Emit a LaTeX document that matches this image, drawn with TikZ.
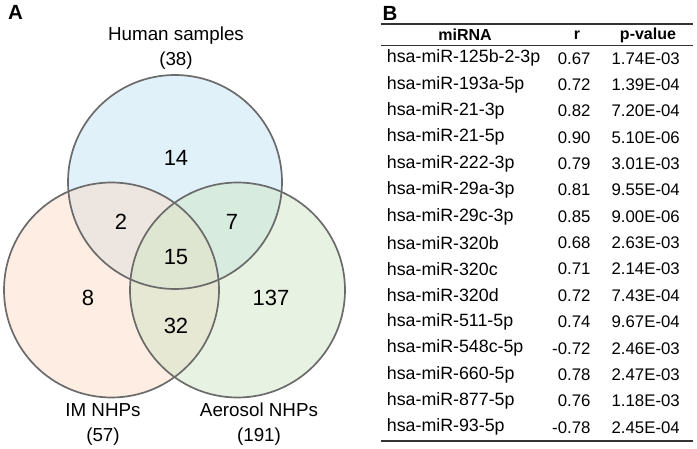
\documentclass[tikz,border=0pt]{standalone}
\usepackage{fontspec}
\setmainfont{Liberation Sans}
\definecolor{humanblue}{RGB}{193,227,245}
\definecolor{imorange}{RGB}{251,219,197}
\definecolor{aerogreen}{RGB}{209,229,197}

\begin{document}
\begin{tikzpicture}[x=1pt,y=-1pt,
  venn/.style={draw=black!58,line width=1.7pt},
  setlabel/.style={font=\fontsize{18.8}{25}\selectfont,align=center},
  count/.style={font=\fontsize{22}{24}\selectfont},
  panel/.style={font=\fontsize{20.5}{22}\selectfont\bfseries},
  cell/.style={font=\fontsize{16.8}{18}\selectfont,inner sep=0pt}]
  \useasboundingbox (0,0) rectangle (697,449);
  % venn diagram
  \fill[humanblue,fill opacity=0.5] (175,182) circle (107);
  \fill[imorange,fill opacity=0.5] (111.5,290) circle (107.5);
  \fill[aerogreen,fill opacity=0.5] (237.5,290) circle (107.5);
  \draw[venn] (175,182) circle (107);
  \draw[venn] (111.5,290) circle (107.5);
  \draw[venn] (237.5,290) circle (107.5);
  \node[panel] (lblA) at (15.5,12) {A};
  \node[setlabel] (human) at (176,48.5) {Human samples\\(38)};
  \node[setlabel] (im) at (103,424.5) {IM NHPs\\(57)};
  \node[setlabel] (aero) at (259,424.5) {Aerosol NHPs\\(191)};
  \node[count] (n14) at (176,158) {14};
  \node[count] (n2) at (121,222) {2};
  \node[count] (n7) at (232,222) {7};
  \node[count] (n15) at (176,257) {15};
  \node[count] (n8) at (88,298) {8};
  \node[count] (n137) at (271,298) {137};
  \node[count] (n32) at (176,326) {32};
  % table
  \node[panel] (lblB) at (390,13.5) {B};
  \draw[line width=1.6pt,black!80] (381,24) -- (693,24);
  \draw[line width=0.8pt,black!80] (381,45) -- (693,45);
  \draw[line width=1.6pt,black!80] (381,440.7) -- (693,440.7);
  \node[cell,font=\fontsize{16}{18}\selectfont\bfseries] (hmir) at (465,35) {miRNA};
  \node[cell,font=\fontsize{16}{18}\selectfont\bfseries] (hr) at (577,35) {r};
  \node[cell,font=\fontsize{16}{18}\selectfont\bfseries] (hp) at (648,35) {p-value};
  \foreach \name/\rval/\pval [count=\i] in {
    hsa-miR-125b-2-3p/0.67/1.74E-03, hsa-miR-193a-5p/0.72/1.39E-04,
    hsa-miR-21-3p/0.82/7.20E-04, hsa-miR-21-5p/0.90/5.10E-06,
    hsa-miR-222-3p/0.79/3.01E-03, hsa-miR-29a-3p/0.81/9.55E-04,
    hsa-miR-29c-3p/0.85/9.00E-06, hsa-miR-320b/0.68/2.63E-03,
    hsa-miR-320c/0.71/2.14E-03, hsa-miR-320d/0.72/7.43E-04,
    hsa-miR-511-5p/0.74/9.67E-04, hsa-miR-548c-5p/-0.72/2.46E-03,
    hsa-miR-660-5p/0.78/2.47E-03, hsa-miR-877-5p/0.76/1.18E-03,
    hsa-miR-93-5p/-0.78/2.45E-04} {
    \node[cell,anchor=west,font=\fontsize{17.8}{19}\selectfont] (mir\i) at (386.7,{58.3+26.36*(\i-1)}) {\name};
    \node[cell,anchor=east] (r\i) at (590.7,{58.3+26.36*(\i-1)}) {\rval};
    \node[cell,anchor=east] (p\i) at (680,{58.3+26.36*(\i-1)}) {\pval};
  }
\end{tikzpicture}
\end{document}
